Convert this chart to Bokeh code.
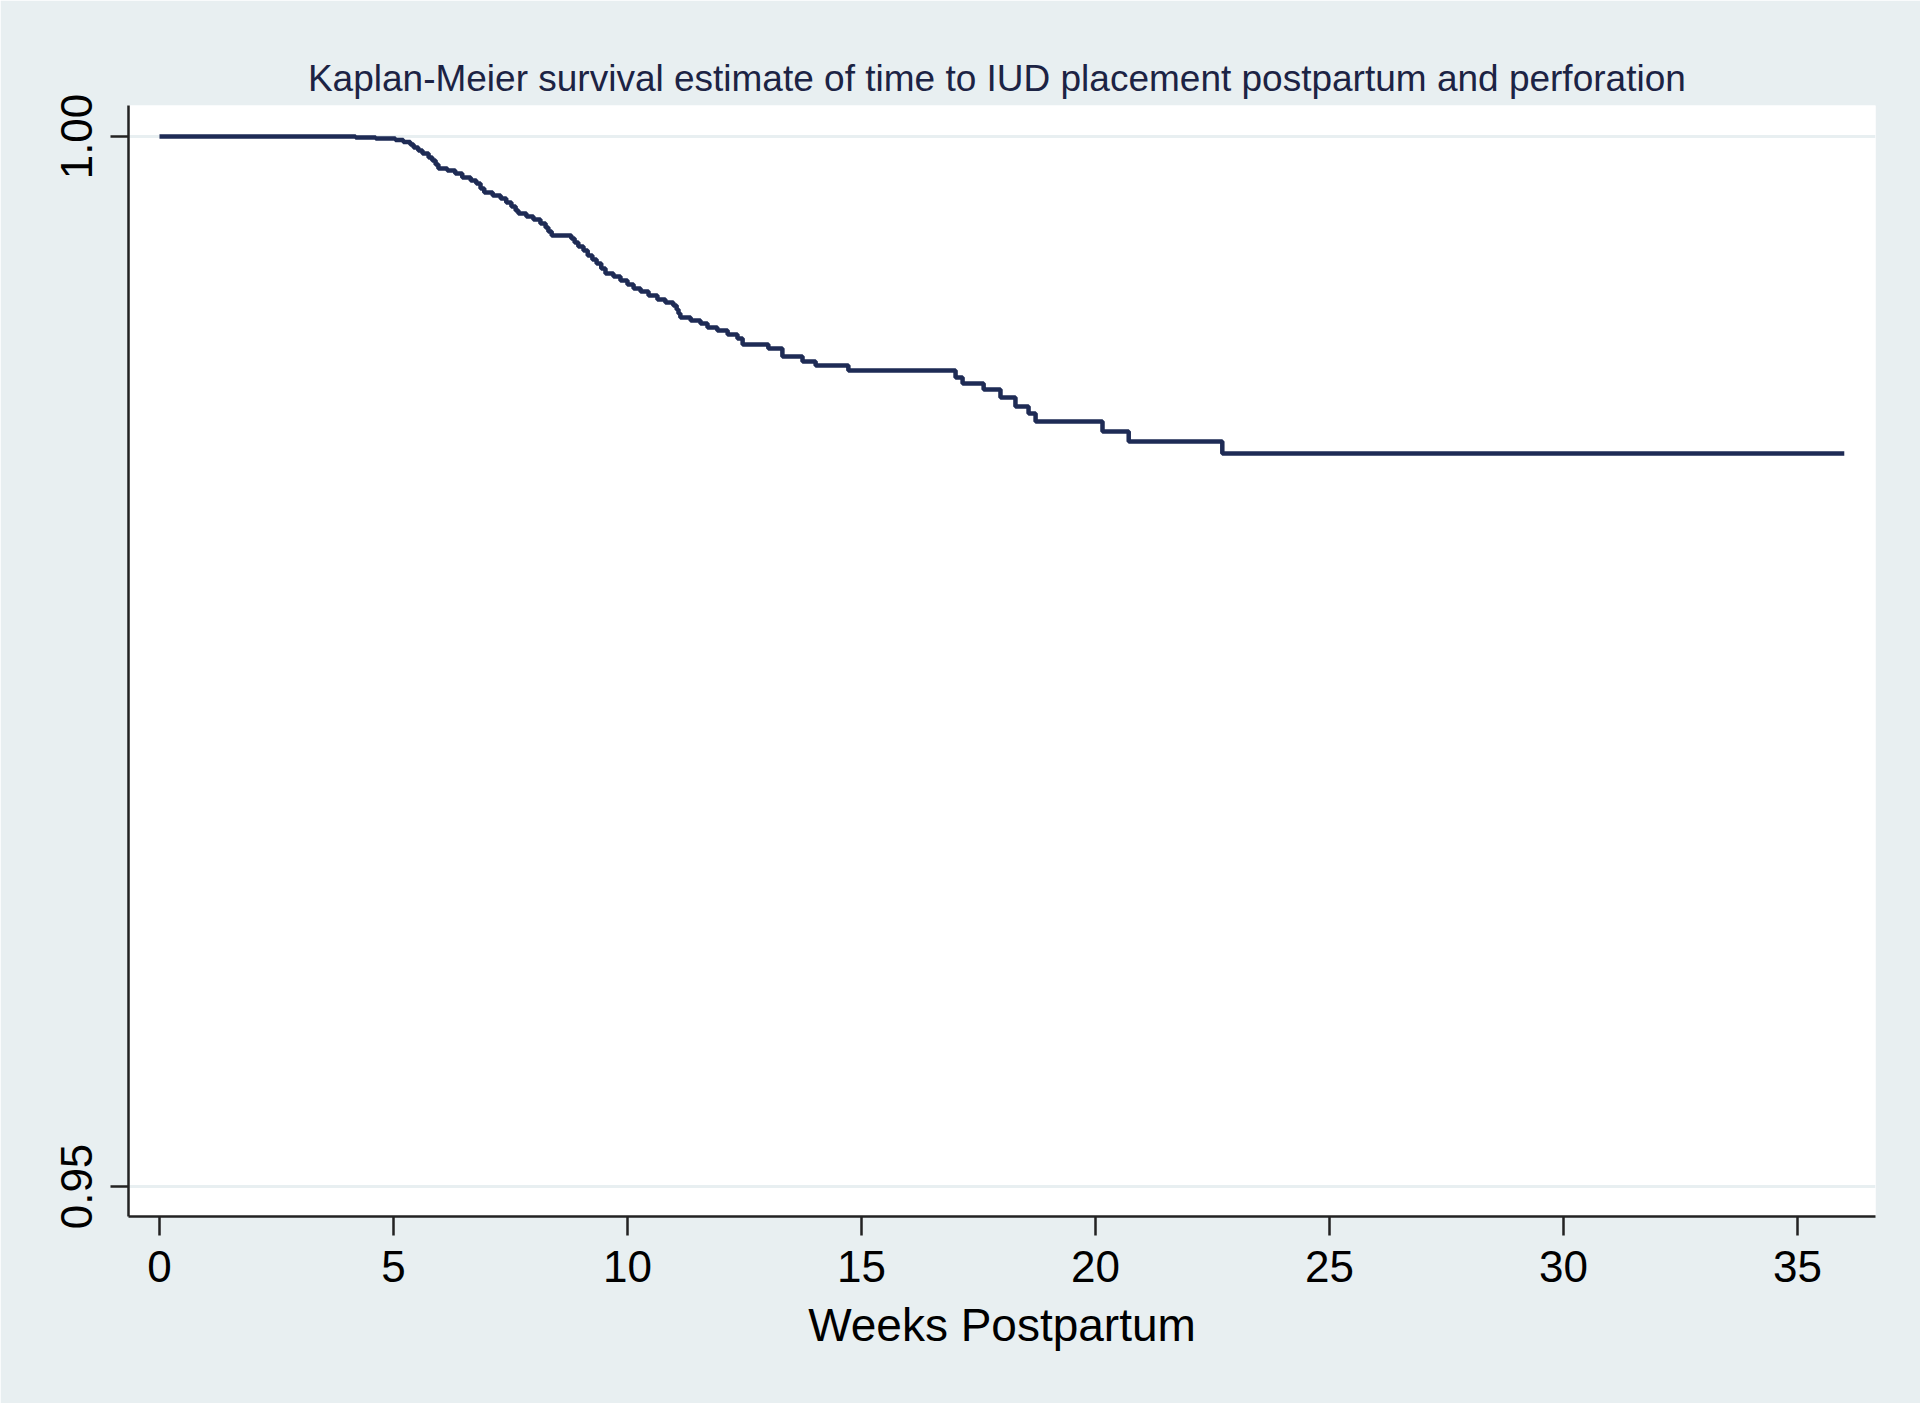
from bokeh.plotting import figure
from bokeh.models import FixedTicker, PrintfTickFormatter, Range1d
from bokeh.embed import file_html
from bokeh.resources import INLINE

# Kaplan-Meier step data (weeks postpartum, survival)
weeks = [0.0, 4.19, 4.62, 5.04, 5.21, 5.36, 5.43, 5.53, 5.62, 5.75, 5.83, 5.90, 5.96,
         6.15, 6.32, 6.47, 6.65, 6.77, 6.86, 6.94, 7.12, 7.29, 7.41, 7.52, 7.61, 7.67,
         7.84, 7.99, 8.14, 8.25, 8.31, 8.38, 8.80, 8.87, 8.95, 9.06, 9.15, 9.25, 9.34,
         9.44, 9.53, 9.70, 9.85, 10.00, 10.13, 10.28, 10.45, 10.64, 10.81, 10.98, 11.05,
         11.09, 11.13, 11.35, 11.56, 11.71, 11.92, 12.14, 12.35, 12.46, 13.01, 13.31,
         13.74, 14.02, 14.72, 17.01, 17.16, 17.61, 17.97, 18.29, 18.57, 18.72, 20.15,
         20.71, 22.71, 36.0]
survival = [1.0, 0.99995, 0.99990, 0.99983, 0.99974, 0.99962, 0.99948, 0.99933, 0.99919,
            0.99900, 0.99886, 0.99867, 0.99848, 0.99838, 0.99824, 0.99805, 0.99790,
            0.99776, 0.99752, 0.99733, 0.99719, 0.99705, 0.99686, 0.99667, 0.99648,
            0.99633, 0.99619, 0.99605, 0.99586, 0.99567, 0.99548, 0.99529, 0.99514,
            0.99495, 0.99476, 0.99457, 0.99433, 0.99414, 0.99395, 0.99371, 0.99348,
            0.99333, 0.99314, 0.99295, 0.99276, 0.99262, 0.99243, 0.99224, 0.99210,
            0.99195, 0.99176, 0.99157, 0.99138, 0.99124, 0.99110, 0.99090, 0.99076,
            0.99057, 0.99038, 0.99010, 0.98990, 0.98952, 0.98929, 0.98910, 0.98886,
            0.98852, 0.98824, 0.98795, 0.98757, 0.98714, 0.98681, 0.98643, 0.98595,
            0.98548, 0.98490, 0.98490]

x_ticks = [0, 5, 10, 15, 20, 25, 30, 35]
y_ticks = [0.95, 1.00]

title_text = "Kaplan-Meier survival estimate of time to IUD placement postpartum  and perforation"
x_label = "Weeks Postpartum"

BG = "#E8EFF1"
LINE = "#1E2B55"
FONT = "Liberation Sans"

p = figure(width=1920, height=1403, output_backend="svg", toolbar_location=None,
           x_range=Range1d(-0.662, 36.667), y_range=Range1d(0.948571, 1.001476),
           min_border_left=128, min_border_right=45, min_border_top=105, min_border_bottom=187)

p.title.text = title_text
p.title.align = "center"
p.title.text_font = FONT
p.title.text_font_size = "37px"
p.title.text_font_style = "normal"
p.title.text_color = "#1C2344"
p.title.offset = 0
p.title.standoff = 14

p.background_fill_color = "white"
p.border_fill_color = BG
p.outline_line_color = None

p.step(weeks, survival, mode="after", line_color=LINE, line_width=4.5)

# grid
p.xgrid.visible = False
p.ygrid.ticker = FixedTicker(ticks=y_ticks)
p.ygrid.grid_line_color = BG
p.ygrid.grid_line_width = 3

# x axis
xa = p.xaxis[0]
xa.ticker = FixedTicker(ticks=x_ticks)
xa.axis_label = x_label
xa.axis_label_text_font = FONT
xa.axis_label_text_font_size = "46px"
xa.axis_label_text_font_style = "normal"
xa.axis_label_text_color = "black"
xa.axis_label_standoff = 14
xa.major_label_text_font = FONT
xa.major_label_text_font_size = "44px"
xa.major_label_text_color = "black"
xa.major_label_standoff = 15
xa.axis_line_color = "#222222"
xa.axis_line_width = 2.5
xa.major_tick_line_color = "#222222"
xa.major_tick_line_width = 2.5
xa.major_tick_out = 19
xa.major_tick_in = 0
xa.minor_tick_line_color = None

# y axis
ya = p.yaxis[0]
ya.ticker = FixedTicker(ticks=y_ticks)
ya.formatter = PrintfTickFormatter(format="%.2f")
ya.major_label_orientation = "vertical"
ya.major_label_text_font = FONT
ya.major_label_text_font_size = "44px"
ya.major_label_text_color = "black"
ya.major_label_standoff = 18
ya.axis_line_color = "#222222"
ya.axis_line_width = 2.5
ya.major_tick_line_color = "#222222"
ya.major_tick_line_width = 2.5
ya.major_tick_out = 18
ya.major_tick_in = 0
ya.minor_tick_line_color = None

open("out.html", "w").write(file_html(p, INLINE))
